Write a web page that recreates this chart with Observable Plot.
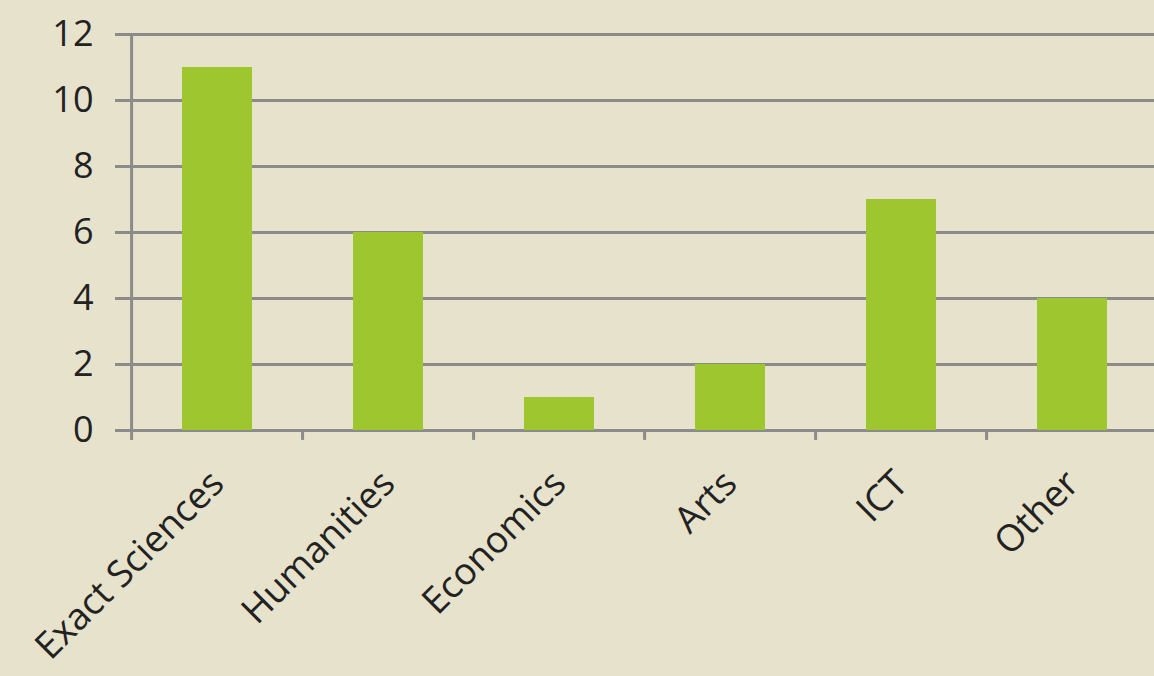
<!DOCTYPE html>
<html>
<head>
<meta charset="utf-8">
<script src="https://cdn.jsdelivr.net/npm/d3@7"></script>
<script src="https://cdn.jsdelivr.net/npm/@observablehq/plot@0.6"></script>
<style>
  html, body { margin: 0; padding: 0; background: #e7e2cc; }
  #chart svg { display: block; }
</style>
</head>
<body>
<div id="chart"></div>
<script>
const categories = ["Exact Sciences", "Humanities", "Economics", "Arts", "ICT", "Other"];
const values = [11, 6, 1, 2, 7, 4];
const yTicks = [0, 2, 4, 6, 8, 10, 12];

const data = categories.map((c, i) => ({category: c, value: values[i]}));

const W = 1154, H = 676;
const left = 129, right = 1160;
const step = (right - left) / categories.length;
const grey = "#8b8b8b";
const font = "'Open Sans', 'DejaVu Sans', sans-serif";

const chart = Plot.plot({
  width: W,
  height: H,
  marginLeft: left,
  marginRight: 0,
  marginTop: 34,
  marginBottom: 246,
  style: {background: "#e7e2cc", fontFamily: font, color: "#222", overflow: "visible"},
  x: {domain: categories, range: [left, right], paddingInner: 0.59, paddingOuter: 0.3, label: null},
  y: {domain: [0, 12], label: null},
  marks: [
    Plot.gridY(yTicks, {stroke: grey, strokeOpacity: 1, strokeWidth: 3}),
    Plot.axisY(yTicks, {tickSize: 14, tickPadding: 22, stroke: grey, strokeWidth: 3, fontSize: 36, fill: "#222", label: null}),
    Plot.ruleX([0], {x: () => categories[0], dx: -step / 2, y1: 12, y2: -0.3, stroke: grey, strokeWidth: 3}),
    Plot.ruleX(categories.slice(1), {x: d => d, dx: -step / 2, y1: 0, y2: -0.3, stroke: grey, strokeWidth: 3}),
    Plot.barY(data, {x: "category", y: "value", fill: "#9dc62f"}),
    Plot.axisX({tickSize: 0, tickRotate: -45, tickPadding: 47, fontSize: 37, fill: "#222", label: null, textAnchor: "end", dx: 0, dy: 0})
  ]
});
document.getElementById("chart").appendChild(chart);
</script>
</body>
</html>
